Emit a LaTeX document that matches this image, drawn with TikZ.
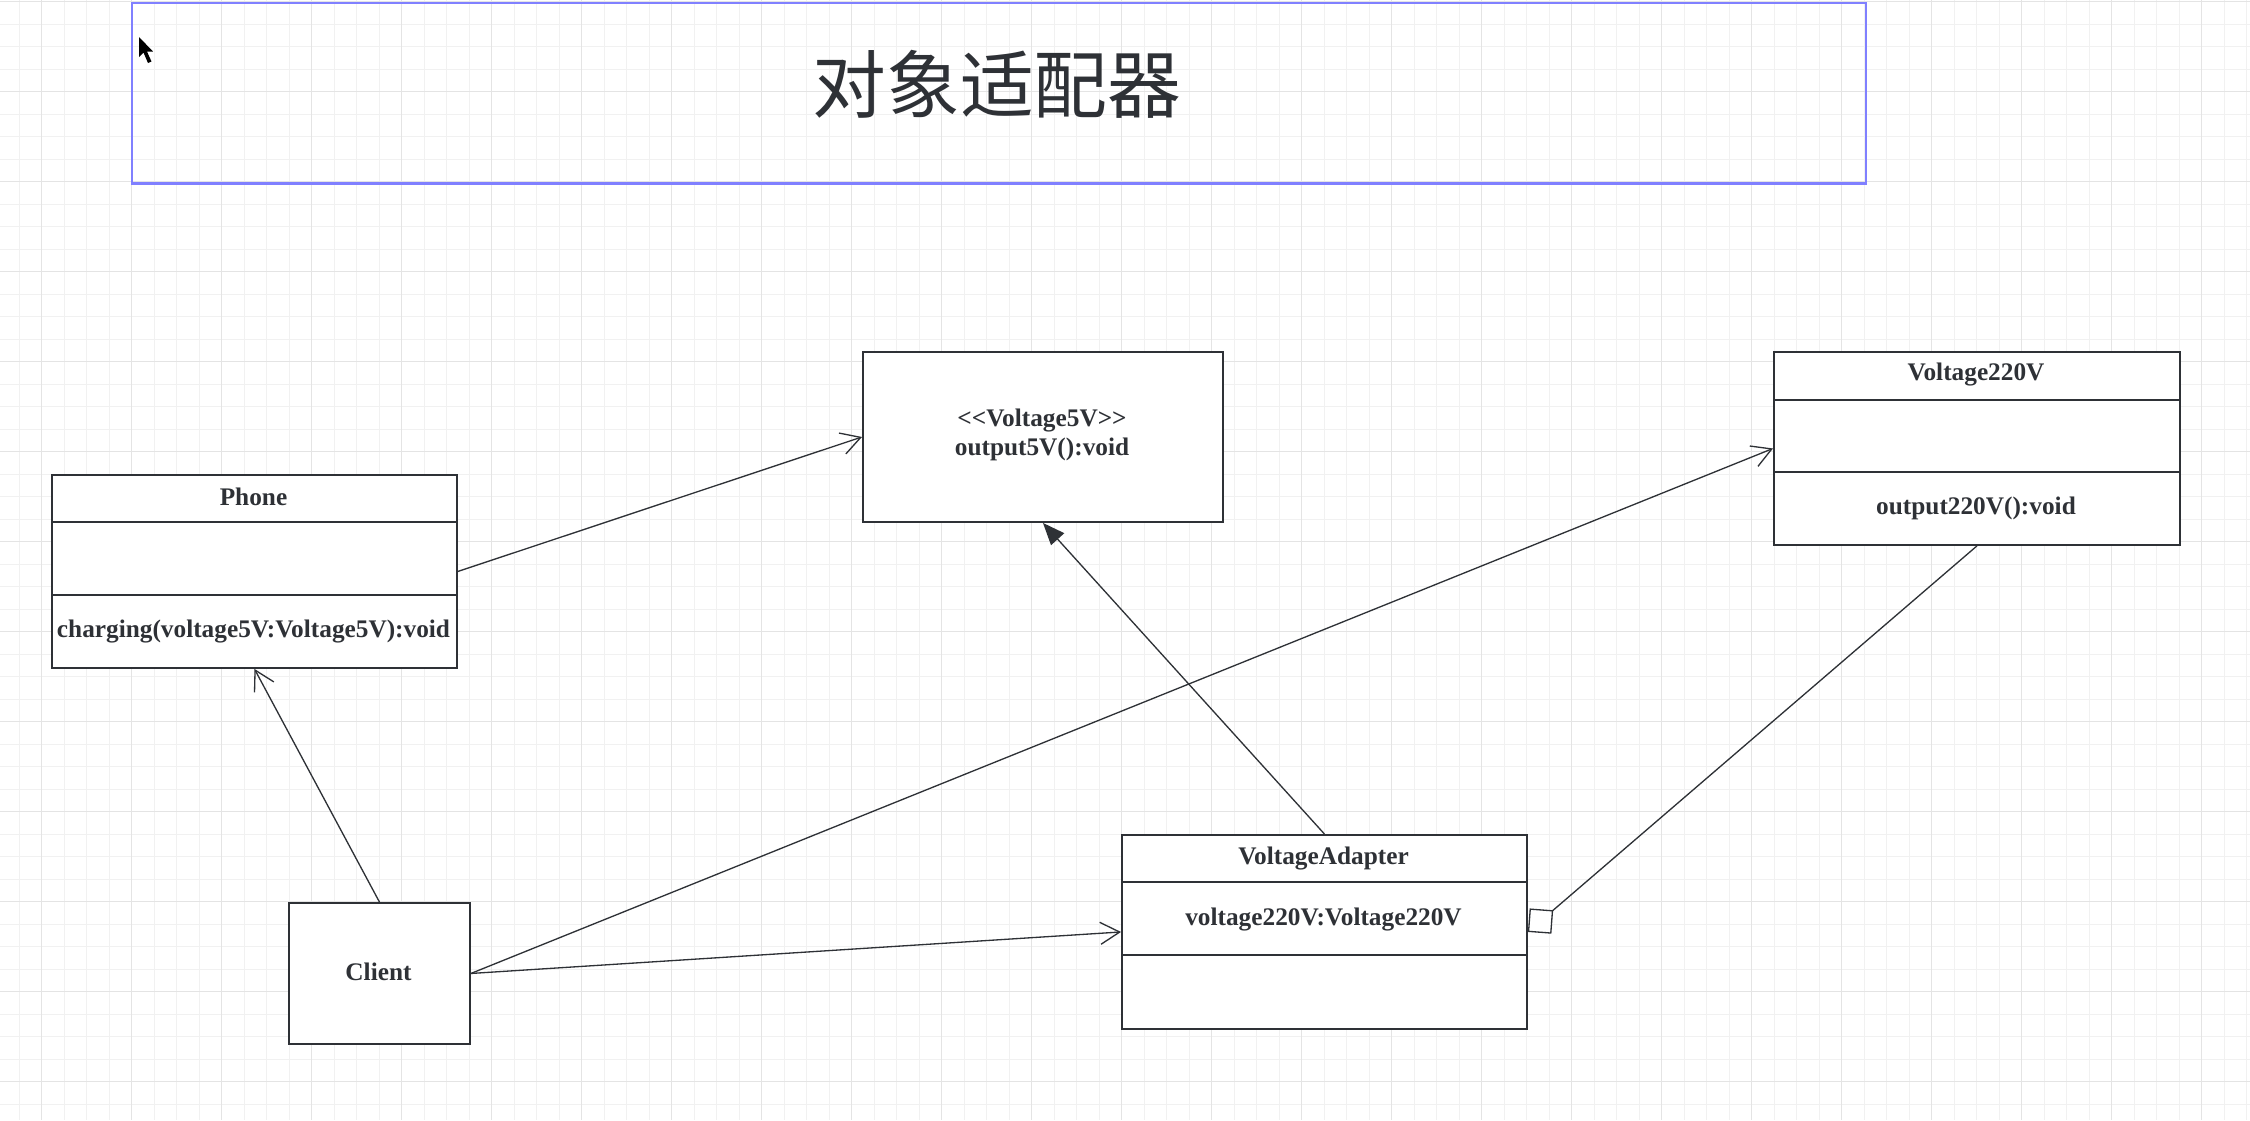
\documentclass[tikz,border=0pt]{standalone}
\usepackage{fontspec}
\setmainfont{Liberation Serif}
\newfontfamily\cjk{Noto Sans CJK SC}
\usetikzlibrary{arrows.meta}
\definecolor{ink}{RGB}{46,49,54}
\definecolor{gridminor}{RGB}{241,241,241}
\definecolor{gridmajor}{RGB}{228,228,228}
\definecolor{titleblue}{RGB}{128,128,255}
\begin{document}
\begin{tikzpicture}[x=0.02cm,y=-0.02cm,
  cls/.style={draw=ink,line width=1.1pt,fill=white,inner sep=0pt,anchor=north west,
    font=\fontsize{14.4}{16.4}\selectfont\bfseries,text=ink},
  lbl/.style={inner sep=0pt,font=\fontsize{14.4}{16.4}\selectfont\bfseries,text=ink},
  divider/.style={draw=ink,line width=1.1pt},
  conn/.style={draw=ink,line width=0.75pt},
  openarr/.style={conn,-{Straight Barb[length=11pt,width=12.5pt]}},
  realize/.style={conn,-{Triangle[length=12.5pt,width=10pt]}},
  aggr/.style={conn,-{Diamond[fill=white,length=19pt,width=19pt]}}
]
\useasboundingbox (0,0) rectangle (2250,1120);
\fill[white] (0,0) rectangle (2250,1120);
% grid
\foreach \i in {0,...,99} {\draw[gridminor,line width=0.55pt] ({19+22.5*\i},0) -- ({19+22.5*\i},1120);}
\foreach \i in {0,...,50} {\draw[gridminor,line width=0.55pt] (0,{1.5+22.5*\i}) -- (2250,{1.5+22.5*\i});}
\foreach \i in {0,...,24} {\draw[gridmajor,line width=0.55pt] ({41.5+90*\i},0) -- ({41.5+90*\i},1120);}
\foreach \i in {0,...,12} {\draw[gridmajor,line width=0.55pt] (0,{1.5+90*\i}) -- (2250,{1.5+90*\i});}

% title frame
\node[draw=titleblue,line width=1.4pt,anchor=north west,minimum width=34.68cm,minimum height=3.62cm,inner sep=0pt] (frame) at (131,1.5) {};
\node[inner sep=0pt,text=ink,font=\cjk\fontsize{42}{48}\selectfont] (title) at (997,84) {对象适配器};

% cursor
\fill[black] (139,37) -- (139,57) -- (143.5,52.5) -- (148,63) -- (151.5,61.5) -- (147,51.5) -- (153,51.5) -- cycle;

% classes
\node[cls,minimum width=8.1cm,minimum height=3.86cm] (phone) at (51,474) {};
\draw[divider] (51,522) -- (456,522);
\draw[divider] (51,595) -- (456,595);
\node[lbl] (phoneT) at (253.5,497) {Phone};
\node[lbl] (phoneM) at (253.5,631) {charging(voltage5V:Voltage5V):void};

\node[cls,minimum width=7.2cm,minimum height=3.4cm,align=center] (v5) at (862,351) {};
\node[lbl,align=center] (v5T) at (1042,435) {<{}<Voltage5V>{}>\\output5V():void};

\node[cls,minimum width=8.12cm,minimum height=3.86cm] (v220) at (1773,351) {};
\draw[divider] (1773,400) -- (2179,400);
\draw[divider] (1773,472) -- (2179,472);
\node[lbl] (v220T) at (1976,375) {Voltage220V};
\node[lbl] (v220M) at (1976,508) {output220V():void};

\node[cls,minimum width=8.1cm,minimum height=3.88cm] (adapter) at (1121,834) {};
\draw[divider] (1121,882) -- (1526,882);
\draw[divider] (1121,955) -- (1526,955);
\node[lbl] (adapterT) at (1323.5,858) {VoltageAdapter};
\node[lbl] (adapterA) at (1323.5,919) {voltage220V:Voltage220V};

\node[cls,minimum width=3.62cm,minimum height=2.82cm] (client) at (288,902) {};
\node[lbl] (clientT) at (378.5,972) {Client};

% connectors
\draw[openarr] (phone.east) -- (v5.west);
\draw[openarr] (client.north) -- (phone.south);
\draw[openarr] (client.east) -- (v220.west);
\draw[openarr] (client.east) -- (adapter.west);
\draw[realize] (adapter.north) -- (v5.south);
\draw[aggr] (v220.south) -- (adapter.east);
\end{tikzpicture}
\end{document}
